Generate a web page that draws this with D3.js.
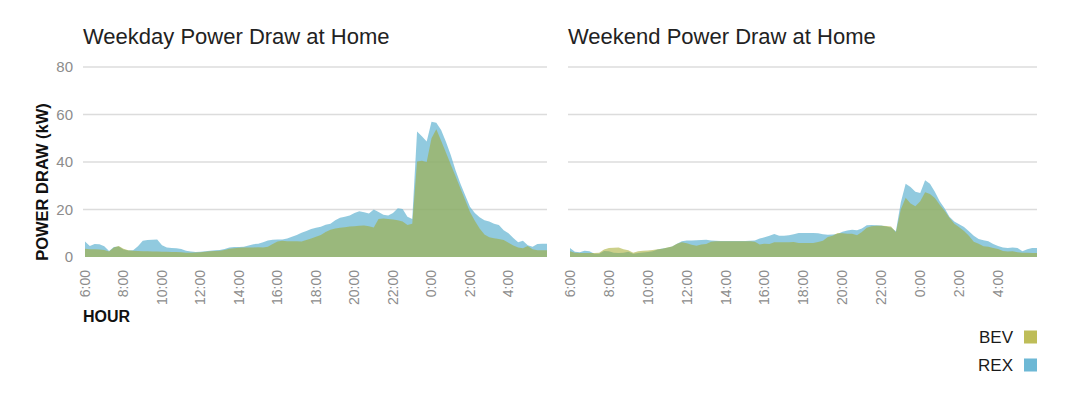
<!DOCTYPE html>
<html><head><meta charset="utf-8">
<script src="https://cdn.jsdelivr.net/npm/d3@7"></script>
<style>
html,body{margin:0;padding:0;background:#fff;}
svg{display:block;font-family:"Liberation Sans",Arial,Helvetica,sans-serif;}
</style></head><body>
<svg id="chart" width="1080" height="393"></svg>
<script>
// ---- data (15‑minute samples, hours after 6:00) ----
const hourTickLabels = ["6:00","8:00","10:00","12:00","14:00","16:00","18:00","20:00","22:00","0:00","2:00","4:00"];
const yTickValues = [0, 20, 40, 60, 80];
const seriesNames = ["BEV", "REX"];
const panelTitles = ["Weekday Power Draw at Home", "Weekend Power Draw at Home"];

const rexWeekday = [
  6.5,4.6,5.5,5.4,4.5,2.5,4.2,4.4,3.2,2.7,2.8,4.5,6.8,7.2,7.3,7.4,
  5.0,4.0,3.8,3.7,3.4,2.6,2.3,2.1,2.2,2.4,2.6,2.8,3.0,3.4,4.0,4.2,
  4.2,4.3,4.8,5.4,5.6,6.2,7.0,7.3,7.4,7.4,7.8,8.5,9.3,10.2,11.0,11.8,
  12.3,12.7,13.6,14.0,15.5,16.5,17.0,17.5,18.5,19.3,18.8,18.3,20.0,19.0,17.8,17.5,
  18.5,20.5,20.2,17.0,16.0,52.8,50.8,48.6,57.0,56.5,53.5,48.5,43.0,36.5,31.0,26.0,
  21.2,18.5,16.7,15.5,15.0,14.0,13.5,11.3,10.0,8.0,6.2,6.8,5.0,4.3,5.5,5.6,
  5.6
];
const bevWeekday = [
  3.5,3.3,3.3,3.2,3.0,2.3,4.0,4.6,3.5,2.8,2.6,2.5,2.4,2.4,2.3,2.3,
  2.2,2.2,2.1,2.1,2.0,1.8,1.8,1.9,2.0,2.2,2.4,2.5,2.6,3.0,3.5,3.7,
  3.9,4.0,4.0,4.0,4.1,4.0,4.3,5.5,6.5,6.8,6.6,6.6,6.6,6.5,7.2,7.8,
  8.5,9.3,10.5,11.5,12.0,12.3,12.5,12.8,13.0,13.2,13.3,13.0,12.4,16.0,16.2,16.0,
  15.8,15.5,15.0,13.5,14.0,40.2,40.5,40.0,50.0,53.8,49.0,44.0,39.0,34.0,29.0,24.0,
  19.0,15.3,12.0,9.5,8.3,7.9,7.6,7.2,6.0,4.8,4.0,3.7,4.6,3.3,2.8,2.8,
  2.8
];
const rexWeekend = [
  3.8,2.2,2.0,2.6,2.4,1.4,1.4,2.5,2.4,1.8,1.7,1.8,2.2,1.4,1.7,1.9,
  2.1,2.4,3.2,3.6,3.9,4.4,5.6,6.6,7.0,7.0,7.1,7.2,7.3,7.0,6.8,6.7,
  6.7,6.7,6.7,6.7,6.7,6.8,7.0,7.8,8.3,9.0,9.7,9.0,9.0,9.2,9.6,10.1,
  10.1,10.1,10.1,10.0,9.6,9.4,9.5,9.7,10.6,11.2,11.5,11.3,12.0,13.4,13.5,13.4,
  13.3,12.8,12.4,10.8,23.0,30.8,29.5,27.5,27.0,32.3,30.8,27.5,23.5,20.5,17.0,15.0,
  13.8,12.6,10.8,9.0,7.6,7.1,6.6,5.5,4.6,4.0,3.8,4.0,3.8,2.4,3.3,3.8,
  3.8
];
const bevWeekend = [
  2.4,1.8,1.7,1.7,1.7,1.7,1.8,3.2,3.8,3.9,4.0,3.3,2.8,1.8,2.4,2.6,
  2.7,3.0,3.3,3.5,4.0,4.4,5.6,6.2,5.8,5.2,4.7,5.3,5.5,6.4,6.6,6.6,
  6.6,6.6,6.6,6.6,6.6,6.6,6.4,5.3,5.6,5.5,6.2,6.2,6.2,6.2,6.3,5.9,
  5.9,5.9,5.9,6.3,6.8,8.4,9.0,10.1,10.0,9.8,9.8,9.2,10.5,12.3,13.0,13.2,
  13.2,13.1,12.8,10.4,20.0,25.0,22.5,21.4,23.5,27.3,26.5,24.8,22.0,19.5,16.5,14.0,
  12.5,11.0,9.0,6.4,5.6,4.5,4.3,3.8,3.4,2.5,2.3,2.4,2.0,1.8,1.8,1.7,
  1.7
];
const sampleHours = d3.range(rexWeekday.length).map(i => i * 0.25);

// ---- layout ----
const colors = { BEV: "#a3aa2a", REX: "#6cb8d4" };
const legendColors = { BEV: "#bebd58", REX: "#6db8d5" };
const svg = d3.select("#chart");
const yScale = d3.scaleLinear().domain([0, 80]).range([257, 67]);

const panels = [
  { title: panelTitles[0], bev: bevWeekday, rex: rexWeekday, x0: 85, x1: 547, showY: true },
  { title: panelTitles[1], bev: bevWeekend, rex: rexWeekend, x0: 570, x1: 1037, showY: false }
];

panels.forEach(p => {
  const x = d3.scaleLinear().domain([0, 24]).range([p.x0, p.x1]);
  const g = svg.append("g");

  // gridlines
  g.selectAll("line.grid").data(yTickValues.filter(v => v > 0)).enter().append("line")
    .attr("x1", p.x0 - 2).attr("x2", p.x1)
    .attr("y1", d => yScale(d)).attr("y2", d => yScale(d))
    .attr("stroke", "#dcdcdc").attr("stroke-width", 1.5);

  // y tick labels
  if (p.showY) {
    g.selectAll("text.ytick").data(yTickValues).enter().append("text")
      .attr("x", 73).attr("y", d => yScale(d)).attr("dy", "0.36em")
      .attr("text-anchor", "end").attr("font-size", 15).attr("fill", "#8c8c8c")
      .text(d => d);
  }

  const area = vals => d3.area()
    .x((d, i) => x(sampleHours[i]))
    .y0(yScale(0))
    .y1(d => yScale(d))(vals);

  g.append("path").attr("d", area(p.rex)).attr("fill", colors.REX).attr("fill-opacity", 0.75);
  g.append("path").attr("d", area(p.bev)).attr("fill", colors.BEV).attr("fill-opacity", 0.55);

  // x tick labels
  g.selectAll("text.xtick").data(hourTickLabels).enter().append("text")
    .attr("transform", (d, i) => `translate(${x(i * 2)},270) rotate(-90)`)
    .attr("dy", "0.35em")
    .attr("text-anchor", "end").attr("font-size", 14).attr("fill", "#8c8c8c")
    .text(d => d);

  // title
  g.append("text").attr("x", p.x0 - 2).attr("y", 44)
    .attr("font-size", 22).attr("fill", "#222").text(p.title);
});

// axis titles
svg.append("text").attr("transform", "translate(48,182) rotate(-90)")
  .attr("text-anchor", "middle").attr("font-size", 16.5).attr("font-weight", "bold")
  .attr("fill", "#111").text("POWER DRAW (kW)");
svg.append("text").attr("x", 83).attr("y", 322)
  .attr("font-size", 16).attr("font-weight", "bold").attr("fill", "#111").text("HOUR");

// legend
const legend = svg.append("g").selectAll("g").data(seriesNames).enter().append("g")
  .attr("transform", (d, i) => `translate(0,${337 + i * 28})`);
legend.append("text").attr("x", 1013).attr("dy", "0.36em").attr("text-anchor", "end")
  .attr("font-size", 17).attr("fill", "#1a1a1a").text(d => d);
legend.append("rect").attr("x", 1024).attr("y", -6.5).attr("width", 13).attr("height", 13)
  .attr("fill", d => legendColors[d]);
</script>
</body></html>
